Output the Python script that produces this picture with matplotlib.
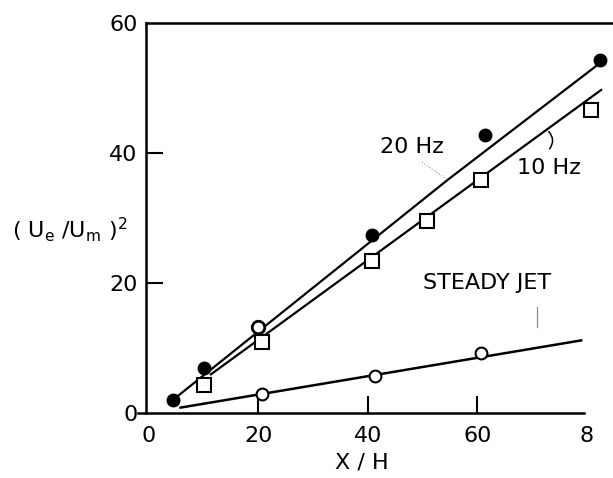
import matplotlib
matplotlib.use("Agg")
import matplotlib.pyplot as plt

# ---- data ----
hz20_x = [4.4, 10.1, 20.0, 40.8, 61.4, 82.4]
hz20_y = [2.0, 6.9, 13.2, 27.4, 42.8, 54.3]
hz20_filled = [True, True, False, True, True, True]

hz10_x = [10.1, 20.7, 40.8, 50.8, 60.7, 80.8]
hz10_y = [4.3, 10.9, 23.4, 29.5, 35.8, 46.6]

steady_x = [20.7, 41.3, 60.7]
steady_y = [2.9, 5.7, 9.2]

fit20_x = [4.4, 54.5, 81.9]
fit20_y = [2.0, 35.8, 53.5]
fit10_x = [11.2, 82.8]
fit10_y = [5.85, 49.8]
fit_steady_x = [5.6, 79.2]
fit_steady_y = [0.8, 11.2]

xticks = [0, 20, 40, 60, 80]
xticklabels = ["0", "20", "40", "60", "8"]
yticks = [0, 20, 40, 60]
yticklabels = ["0", "20", "40", "60"]

plt.rcParams['font.family'] = ['DejaVu Sans']
plt.rcParams['mathtext.default'] = 'regular'

W, H = 613, 478
fig = plt.figure(figsize=(W / 100, H / 100), dpi=100)
ax = fig.add_axes([146 / W, (H - 413) / H, (W - 146) / W, 390 / H])
ax.set_xlim(-0.5, 84.8)
ax.set_ylim(0, 60)

# fitted lines
ax.plot(fit20_x, fit20_y, color='black', lw=1.6, solid_capstyle='butt')
ax.plot(fit10_x, fit10_y, color='black', lw=1.6, solid_capstyle='butt')
ax.plot(fit_steady_x, fit_steady_y, color='black', lw=1.8, solid_capstyle='butt')

# markers
fx = [x for x, f in zip(hz20_x, hz20_filled) if f]
fy = [y for y, f in zip(hz20_y, hz20_filled) if f]
ox = [x for x, f in zip(hz20_x, hz20_filled) if not f]
oy = [y for y, f in zip(hz20_y, hz20_filled) if not f]
ax.plot(fx, fy, 'o', color='black', ms=9, zorder=5)
ax.plot(ox, oy, 'o', mfc='white', mec='black', mew=2.0, ms=9, zorder=5)
ax.plot(hz10_x, hz10_y, 's', mfc='white', mec='black', mew=1.5, ms=10, zorder=6)
ax.plot(steady_x, steady_y, 'o', mfc='white', mec='black', mew=1.5, ms=8.5, zorder=5)

# spines
for s in ['left', 'bottom', 'top']:
    ax.spines[s].set_linewidth(1.8)
ax.spines['right'].set_visible(False)
ax.spines['bottom'].set_bounds(-2.0, 79.5)

# ticks
ax.set_xticks(xticks)
ax.set_xticklabels(xticklabels)
ax.set_yticks(yticks)
ax.set_yticklabels(yticklabels)
ax.tick_params(axis='x', direction='in', length=12, width=1.5, pad=9,
               labelsize=16, top=False)
ax.tick_params(axis='y', direction='in', length=12, width=1.5, pad=6,
               labelsize=16, right=False)
for i in (0, len(xticks) - 1):
    ax.xaxis.get_major_ticks()[i].tick1line.set_visible(False)
for i in (0, len(yticks) - 1):
    ax.yaxis.get_major_ticks()[i].tick1line.set_visible(False)

# labels
ax.set_xlabel('X / H', fontsize=16)
ax.xaxis.set_label_coords((362 - 146) / 467, (413 - 453) / 390)
fig.text(12 / W, 1 - 230 / H, '( U$_e$ /U$_m$ )$^2$', fontsize=16,
         ha='left', va='center')

# annotations
ax.text(48.1, 40.9, '20 Hz', fontsize=16, ha='center', va='center')
ax.text(73.1, 37.7, '10 Hz', fontsize=16, ha='center', va='center')
ax.text(61.8, 20.0, 'STEADY JET', fontsize=16, ha='center', va='center')
ax.plot([49.9, 54.7], [38.6, 35.8], color='0.6', lw=0.8, ls=':')
ax.annotate('', xy=(72.9, 40.3), xytext=(72.7, 43.6),
            arrowprops=dict(arrowstyle='-', color='black', lw=1.1,
                            connectionstyle='arc3,rad=-0.5'))
ax.plot([70.9, 70.9], [16.3, 13.2], color='0.55', lw=0.9)

fig.savefig('out.png', dpi=100)
